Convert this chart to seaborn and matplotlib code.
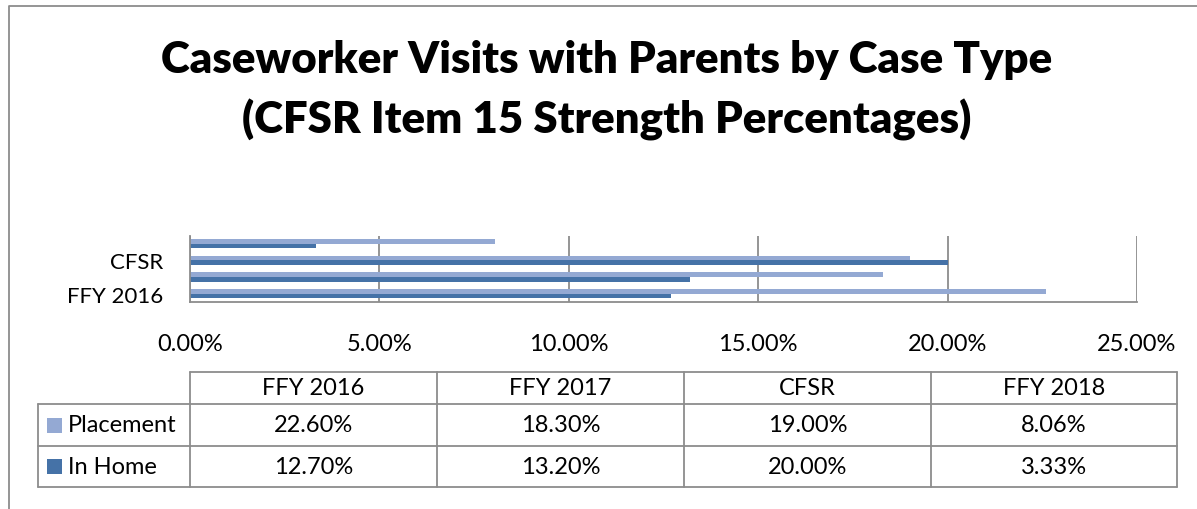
import numpy as np
import pandas as pd
import matplotlib
matplotlib.use('Agg')
import matplotlib.pyplot as plt
import seaborn as sns
from matplotlib.ticker import PercentFormatter
from matplotlib.patches import Rectangle

periods = ['FFY 2016', 'FFY 2017', 'CFSR', 'FFY 2018']
placement = [22.60, 18.30, 19.00, 8.06]
in_home = [12.70, 13.20, 20.00, 3.33]
series = ['Placement', 'In Home']
shown_labels = ['FFY 2016', 'CFSR']
title_lines = ['Caseworker Visits with Parents by Case Type',
               '(CFSR Item 15 Strength Percentages)']

colors = {'Placement': '#94A9D3', 'In Home': '#4572A7'}
grey = '#8C8C8C'

df = pd.DataFrame({'period': periods * 2,
                   'series': ['Placement'] * len(periods) + ['In Home'] * len(periods),
                   'value': placement + in_home})

sns.set_style('white')
plt.rcParams['font.family'] = ['Lato', 'DejaVu Sans']
plt.rcParams['text.color'] = 'black'

W, H = 1197, 510
fig = plt.figure(figsize=(W / 100, H / 100), dpi=100)


def px(x0, y0, x1, y1):
    # pixel box -> figure fraction rect
    return [x0 / W, 1 - y1 / H, (x1 - x0) / W, (y1 - y0) / H]


#Bars
ax = fig.add_axes(px(190, 236.5, 1137, 303))
order = periods[::-1]
sns.barplot(data=df, y='period', x='value', hue='series', order=order,
            hue_order=series, palette=colors, orient='h', width=0.56,
            saturation=1, linewidth=0, legend=False, ax=ax)
ax.set_xlim(0, 25)
ax.set_ylim(3.5, -0.5)
ax.set_xticks(np.arange(0, 26, 5))
ax.xaxis.set_major_formatter(PercentFormatter(decimals=2))
ax.xaxis.grid(True, color=grey, lw=1.3)
ax.set_axisbelow(True)
ax.set_xlabel('')
ax.set_ylabel('')
for s in ['top', 'right']:
    ax.spines[s].set_visible(False)
for s in ['left', 'bottom']:
    ax.spines[s].set_color(grey)
    ax.spines[s].set_linewidth(1.3)
ax.tick_params(axis='x', direction='out', length=6, width=1.3, color=grey,
               pad=16, labelsize=17, labelcolor='black')
ax.set_yticks(np.arange(-0.5, 4, 1))
ax.set_yticklabels([])
ax.tick_params(axis='y', which='major', direction='out', length=5, width=1.3, color=grey)
ax.set_yticks(np.arange(len(order)), minor=True)
ax.set_yticklabels([p if p in shown_labels else '' for p in order], minor=True)
ax.tick_params(axis='y', which='minor', length=0, pad=19, labelsize=16,
               labelcolor='black')

#Frame + title
lay = fig.add_axes([0, 0, 1, 1], zorder=-1)
lay.set_xlim(0, W)
lay.set_ylim(H, 0)
lay.axis('off')
lay.plot([9, 9, W], [H, 7, 7], color=grey, lw=1.3)
fig.text(607 / W, 1 - 60 / H, title_lines[0], ha='center', va='center',
         fontsize=31.5, fontweight='heavy')
fig.text(607 / W, 1 - 120 / H, title_lines[1], ha='center', va='center',
         fontsize=31.5, fontweight='heavy')

#Data table
cols = [190, 437, 684, 931, 1177]
rows = [373, 405, 447, 488]
lab_left = 38
lay.plot([cols[0], cols[-1]], [rows[0], rows[0]], color=grey, lw=1.3)
for y in rows[1:]:
    lay.plot([lab_left, cols[-1]], [y, y], color=grey, lw=1.3)
lay.plot([lab_left, lab_left], [rows[1], rows[-1]], color=grey, lw=1.3)
for x in cols:
    lay.plot([x, x], [rows[0], rows[-1]], color=grey, lw=1.3)

for i, p in enumerate(periods):
    xc = (cols[i] + cols[i + 1]) / 2
    lay.text(xc, (rows[0] + rows[1]) / 2, p, ha='center', va='center', fontsize=17)
for r, (name, vals) in enumerate(zip(series, [placement, in_home])):
    yc = (rows[r + 1] + rows[r + 2]) / 2
    lay.add_patch(Rectangle((47, yc - 7.5), 15, 15, color=colors[name], lw=0))
    lay.text(68, yc, name, ha='left', va='center', fontsize=17)
    for i, v in enumerate(vals):
        xc = (cols[i] + cols[i + 1]) / 2
        lay.text(xc, yc, f'{v:.2f}%', ha='center', va='center', fontsize=17)

fig.savefig('out.png', dpi=100)
